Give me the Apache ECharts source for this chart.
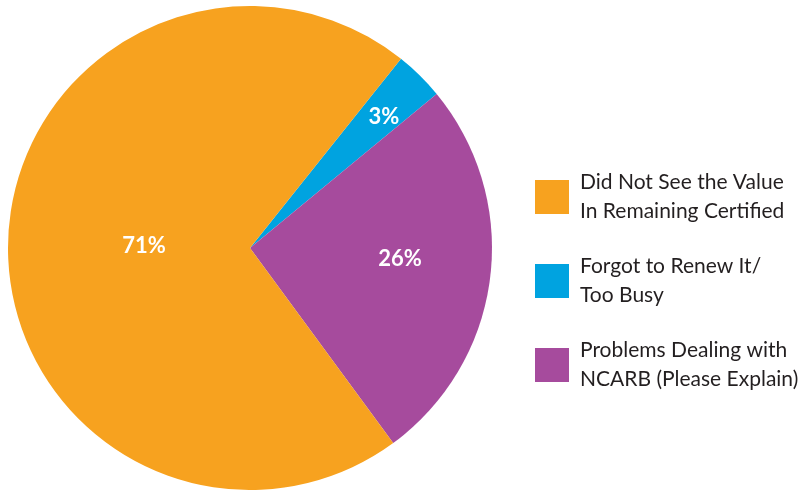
<!DOCTYPE html>
<html>
<head>
<meta charset="utf-8">
<script src="https://cdn.jsdelivr.net/npm/echarts@6/dist/echarts.min.js"></script>
<style>
    html, body { margin: 0; padding: 0; background: #fff; }
    #chart { width: 806px; height: 490px; }
</style>
</head>
<body>
<div id="chart"></div>
<script>
    // 数据
    const categories = ['Forgot to Renew It/\nToo Busy', 'Problems Dealing with\nNCARB (Please Explain)', 'Did Not See the Value\nIn Remaining Certified'];
    const values = [3.3, 25.9, 70.8];
    const colors = ['#00a3e0', '#a64b9d', '#f7a21f'];
    const legendOrder = [categories[2], categories[0], categories[1]];

    // 标签微调
    const labelShift = [[47, -43], [27, -4], [18, 0]];

    const chart = echarts.init(document.getElementById('chart'));
    chart.setOption({
        animation: false,
        color: colors,
        legend: {
            orient: 'vertical',
            left: 535,
            top: 168,
            padding: 0,
            itemWidth: 34,
            itemHeight: 34,
            itemGap: 26,
            icon: 'rect',
            data: legendOrder,
            textStyle: {
                fontFamily: 'Lato',
                fontSize: 21,
                lineHeight: 29,
                color: '#231f20',
                padding: [0, 0, 0, 6]
            }
        },
        series: [{
            type: 'pie',
            center: [250, 248],
            radius: 242,
            startAngle: 51.4,
            clockwise: true,
            silent: true,
            data: categories.map(function (name, i) {
                return { name: name, value: values[i] };
            }),
            label: {
                position: 'inside',
                formatter: function (p) { return Math.round(p.value) + '%'; },
                color: '#fff',
                fontFamily: 'Lato',
                fontWeight: 'bold',
                fontSize: 22
            },
            labelLayout: function (params) {
                const s = labelShift[params.dataIndex];
                return { dx: s[0], dy: s[1] };
            },
            labelLine: { show: false }
        }]
    });
</script>
</body>
</html>
